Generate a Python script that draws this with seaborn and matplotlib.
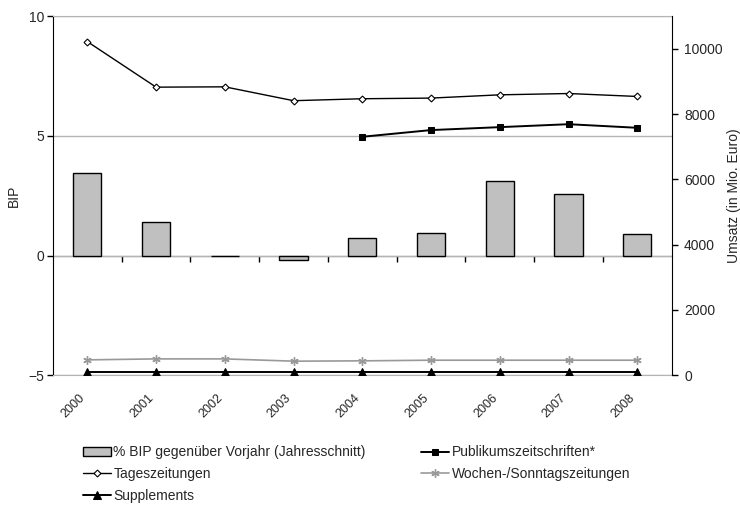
import numpy as np
import pandas as pd
import seaborn as sns
import matplotlib.pyplot as plt
import matplotlib.transforms as mtransforms
from matplotlib.ticker import FixedLocator, NullFormatter

# Daten
years = ["2000", "2001", "2002", "2003", "2004", "2005", "2006", "2007", "2008"]
bip = [3.43, 1.39, 0.0, -0.2, 0.72, 0.94, 3.11, 2.57, 0.89]
tageszeitungen = [10220, 8825, 8835, 8410, 8470, 8490, 8590, 8630, 8540]
publikum = [np.nan, np.nan, np.nan, np.nan, 7305, 7510, 7600, 7690, 7580]
wochen = [470, 500, 500, 430, 440, 460, 460, 460, 460]
supplements = [90, 90, 90, 90, 90, 90, 90, 90, 90]

sns.set_style("white")
plt.rcParams['font.family'] = ['Liberation Sans', 'DejaVu Sans']
plt.rcParams['font.size'] = 10

df = pd.DataFrame({"Jahr": years, "BIP": bip, "pos": np.arange(len(years)),
                   "Tages": tageszeitungen, "Publikum": publikum,
                   "Wochen": wochen, "Supplements": supplements})

fig = plt.figure(figsize=(7.4, 5.05), dpi=100)
ax = fig.add_axes([0.0716, 0.257, 0.836, 0.711])

# Balken BIP
sns.barplot(data=df, x="Jahr", y="BIP", ax=ax, color="#c0c0c0",
            edgecolor="black", linewidth=1, width=0.41, saturation=1,
            label="% BIP gegenüber Vorjahr (Jahresschnitt)", zorder=3)
ax.set_xlim(-0.5, len(years) - 0.5)
ax.set_ylim(-5, 10)
ax.set_yticks([-5, 0, 5, 10])
ax.set_ylabel("BIP", fontsize=10, labelpad=6)
ax.set_xlabel("")
ax.yaxis.grid(True, color="#b4b4b4", linewidth=1)
ax.set_axisbelow(True)
ax.tick_params(axis="y", direction="out", length=4, width=1, color="black", labelsize=10, pad=2)
ax.tick_params(axis="x", length=0, labelsize=9, pad=15)
shift = mtransforms.ScaledTranslation(-3 / 72, 0, fig.dpi_scale_trans)
for lab in ax.get_xticklabels():
    lab.set_rotation(45)
    lab.set_ha("right")
    lab.set_va("center")
    lab.set_rotation_mode("anchor")
    lab.set_transform(lab.get_transform() + shift)
for s in ["top", "bottom"]:
    ax.spines[s].set_color("#b4b4b4")
ax.spines["left"].set_color("black")
ax.spines["right"].set_visible(False)

# Kategorienachse bei 0
zero_axis = ax.secondary_xaxis(5 / 15)
zero_axis.spines["bottom"].set_color("black")
zero_axis.xaxis.set_major_locator(FixedLocator(np.arange(0.5, len(years) - 1, 1.0)))
zero_axis.xaxis.set_major_formatter(NullFormatter())
zero_axis.tick_params(direction="out", length=4, width=1, color="black")

# Umsatz-Linien
ax2 = ax.twinx()
sns.lineplot(data=df, x="pos", y="Tages", ax=ax2, color="black", linewidth=1,
             marker="D", markersize=3.5, markerfacecolor="white",
             markeredgecolor="black", markeredgewidth=0.8, label="Tageszeitungen")
sns.lineplot(data=df.dropna(subset=["Publikum"]), x="pos", y="Publikum", ax=ax2,
             color="black", linewidth=1.4, marker="s", markersize=5,
             markeredgecolor="black", label="Publikumszeitschriften*")
sns.lineplot(data=df, x="pos", y="Wochen", ax=ax2, color="#999999", linewidth=1.2,
             marker=(6, 2, 0), markersize=6, markeredgecolor="#999999",
             markeredgewidth=1, label="Wochen-/Sonntagszeitungen")
sns.lineplot(data=df, x="pos", y="Supplements", ax=ax2, color="black", linewidth=1.4,
             marker="^", markersize=6, markeredgecolor="black", label="Supplements")
ax2.set_ylim(0, 11000)
ax2.set_yticks([0, 2000, 4000, 6000, 8000, 10000])
ax2.set_ylabel("Umsatz (in Mio. Euro)", fontsize=10, labelpad=3)
ax2.set_xlabel("")
ax2.tick_params(axis="y", direction="out", length=4, width=1, color="black", labelsize=10, pad=5)
for s in ["top", "bottom", "left"]:
    ax2.spines[s].set_visible(False)
ax2.spines["right"].set_color("black")
ax2.grid(False)

# Legende
h1, l1 = ax.get_legend_handles_labels()
h2, l2 = ax2.get_legend_handles_labels()
ax2.get_legend().remove()
if ax.get_legend() is not None:
    ax.get_legend().remove()
order = {"Tageszeitungen": 0, "Supplements": 1, "Publikumszeitschriften*": 2,
         "Wochen-/Sonntagszeitungen": 3}
pairs = sorted(zip(h2, l2), key=lambda p: order[p[1]])
handles = h1 + [p[0] for p in pairs]
labels = l1 + [p[1] for p in pairs]
fig.legend(handles, labels, loc="upper left", bbox_to_anchor=(0.112, 0.118), ncol=2,
           frameon=False, fontsize=10, handlelength=2.0, handletextpad=0.2,
           columnspacing=4.0, labelspacing=0.55, borderaxespad=0, borderpad=0)

fig.savefig("out.png", dpi=100)
